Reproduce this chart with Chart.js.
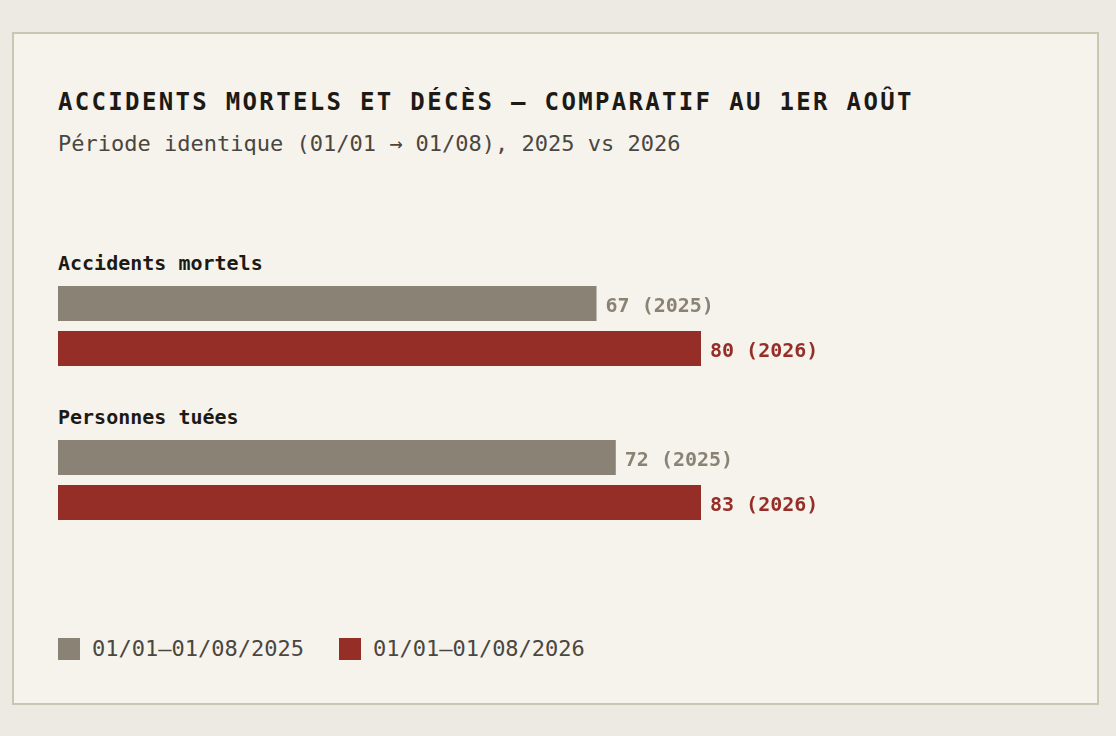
<!DOCTYPE html>
<html lang="fr">
<head>
<meta charset="utf-8">
<script src="https://cdn.jsdelivr.net/npm/chart.js@4/dist/chart.umd.min.js"></script>
<style>
  html, body { margin: 0; padding: 0; background: #edeae3; }
  body { width: 1116px; height: 736px; position: relative; font-family: "DejaVu Sans Mono", monospace; }
  .card { position: absolute; left: 12px; top: 32px; width: 1083px; height: 669px; background: #f6f3ec; border: 2px solid #cbc6b2; }
  .txt { position: absolute; left: 58px; white-space: nowrap; }
  .title { top: 90px; font-size: 24px; line-height: 24px; font-weight: bold; letter-spacing: 2.33px; color: #1d1a16; }
  .subtitle { top: 133px; font-size: 22px; line-height: 22px; color: #4a4640; }
  .group { font-size: 20px; line-height: 20px; font-weight: bold; color: #1d1a16; }
  .chartbox { position: absolute; left: 58px; width: 900px; height: 90px; }
  .legend { position: absolute; left: 58px; top: 638px; display: flex; align-items: center; font-size: 22px; line-height: 22px; color: #4a4640; }
  .legend .sw { width: 22px; height: 22px; margin-right: 12px; }
  .legend .item { display: flex; align-items: center; margin-right: 35px; }
</style>
</head>
<body>
<div class="card"></div>
<div class="txt title">ACCIDENTS MORTELS ET DÉCÈS — COMPARATIF AU 1ER AOÛT</div>
<div class="txt subtitle">Période identique (01/01 → 01/08), 2025 vs 2026</div>
<div id="groups"></div>
<div class="legend" id="legend"></div>

<script>
// data
const categories = ['Accidents mortels', 'Personnes tuées'];
const values2025 = [67, 72];
const values2026 = [80, 83];
const years = ['2025', '2026'];
const seriesLabels = ['01/01–01/08/2025', '01/01–01/08/2026'];
const colors = ['#8a8275', '#952e27'];

// each group has its own row, bars scaled to the group's max
const groupTops = [281, 435];
const labelTops = [253, 407];

const valueLabels = {
  id: 'valueLabels',
  afterDatasetsDraw(chart) {
    const ctx = chart.ctx;
    ctx.save();
    ctx.font = 'bold 20px "DejaVu Sans Mono"';
    ctx.textBaseline = 'middle';
    chart.data.datasets.forEach(function (ds, i) {
      const bar = chart.getDatasetMeta(i).data[0];
      ctx.fillStyle = colors[i];
      ctx.fillText(ds.data[0] + ' (' + years[i] + ')', bar.x + 9, bar.y + 3);
    });
    ctx.restore();
  }
};

const groups = document.getElementById('groups');
categories.forEach(function (cat, i) {
  const lbl = document.createElement('div');
  lbl.className = 'txt group';
  lbl.style.top = labelTops[i] + 'px';
  lbl.textContent = cat;
  groups.appendChild(lbl);

  const box = document.createElement('div');
  box.className = 'chartbox';
  box.style.top = groupTops[i] + 'px';
  const canvas = document.createElement('canvas');
  box.appendChild(canvas);
  groups.appendChild(box);

  new Chart(canvas, {
    type: 'bar',
    data: {
      labels: [cat],
      datasets: [
        { label: seriesLabels[0], data: [values2025[i]], backgroundColor: colors[0] },
        { label: seriesLabels[1], data: [values2026[i]], backgroundColor: colors[1] }
      ]
    },
    options: {
      indexAxis: 'y',
      responsive: true,
      maintainAspectRatio: false,
      animation: false,
      layout: { padding: { right: 257 } },
      categoryPercentage: 1,
      barPercentage: 35 / 45,
      scales: {
        x: { display: false, min: 0, max: Math.max(values2025[i], values2026[i]) },
        y: { display: false }
      },
      plugins: { legend: { display: false }, tooltip: { enabled: false } }
    },
    plugins: [valueLabels]
  });
});

const legend = document.getElementById('legend');
seriesLabels.forEach(function (s, i) {
  const item = document.createElement('div');
  item.className = 'item';
  item.innerHTML = '<div class="sw" style="background:' + colors[i] + '"></div><span>' + s + '</span>';
  legend.appendChild(item);
});
</script>
</body>
</html>
